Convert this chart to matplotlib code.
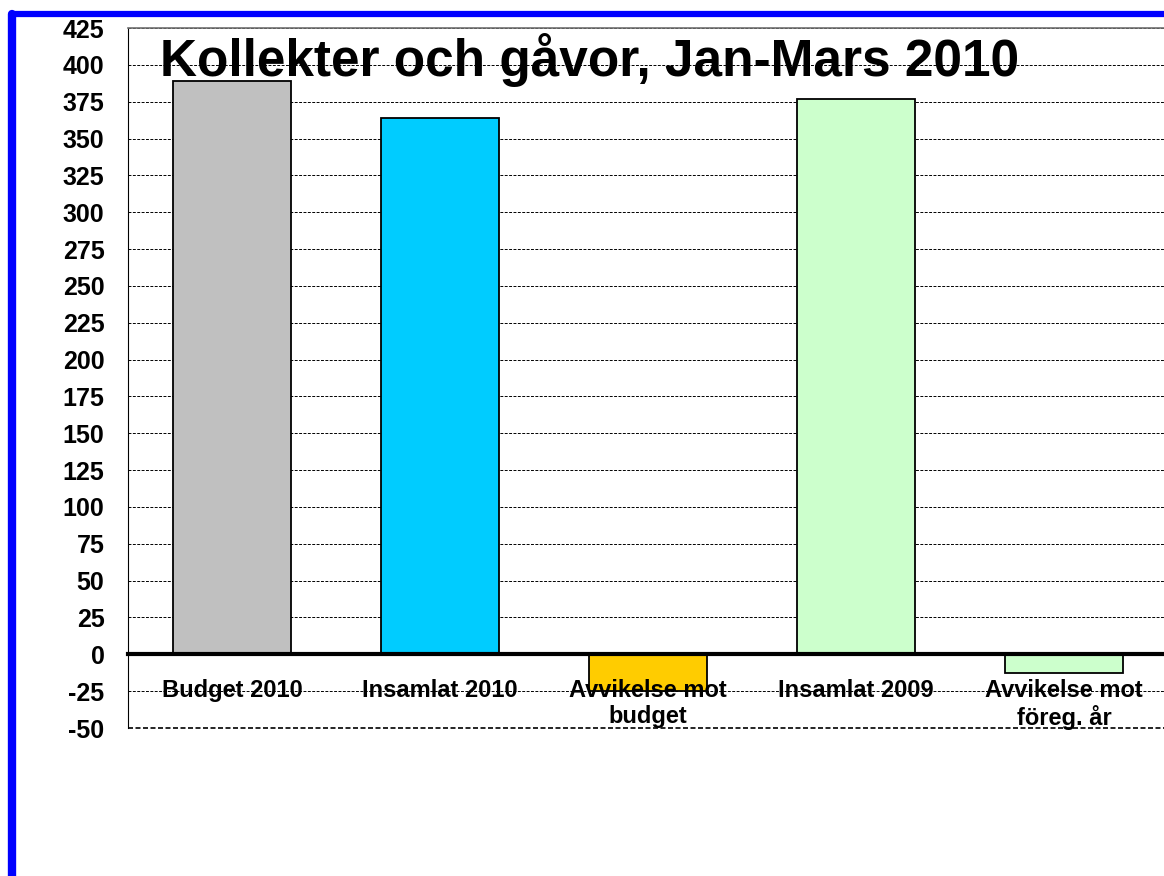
import matplotlib
matplotlib.use("Agg")
import matplotlib.pyplot as plt
from matplotlib.lines import Line2D
import numpy as np

title = "Kollekter och gåvor, Jan-Mars 2010"
categories = ["Budget 2010", "Insamlat 2010", "Avvikelse mot\nbudget",
              "Insamlat 2009", "Avvikelse mot\nföreg. år"]
values = [389, 364, -25, 377, -13]
colors = ["#C0C0C0", "#00CCFF", "#FFCC00", "#CCFFCC", "#CCFFCC"]
yticks = list(range(-50, 426, 25))

plt.rcParams['font.family'] = ['Liberation Sans', 'DejaVu Sans']

fig = plt.figure(figsize=(11.64, 8.76), dpi=100)
fig.patch.set_facecolor('white')

# plot area runs off the right edge like the original
ax = fig.add_axes([128 / 1164, 148 / 876, 1040 / 1164, 700 / 876])
ax.set_facecolor('none')

# spine moves first: set_position resets the tick labels
ax.spines['bottom'].set_position(('data', 0))
ax.spines['bottom'].set_linewidth(3)
ax.spines['bottom'].set_color('black')
ax.spines['bottom'].set_zorder(3)
ax.spines['left'].set_linestyle((0, (1.5, 1)))
ax.spines['left'].set_linewidth(0.8)
ax.spines['top'].set_color('#707070')
ax.spines['top'].set_linewidth(1.2)
ax.spines['right'].set_visible(False)

x = np.arange(len(categories))
ax.bar(x, values, width=0.57, color=colors, edgecolor='black', linewidth=1.3, zorder=2)

ax.set_xlim(-0.5, len(categories) - 0.5)
ax.set_ylim(-50, 425)
ax.set_yticks(yticks)
ax.set_yticklabels([str(v) for v in yticks], fontsize=18, fontweight='bold')
ax.set_xticks(x)
ax.set_xticklabels(categories, fontsize=17, fontweight='bold', linespacing=1.15)
ax.tick_params(axis='both', length=0)
ax.tick_params(axis='y', pad=17)
ax.tick_params(axis='x', pad=18)

ax.grid(axis='y', color='black', linestyle=(0, (3, 1.5)), linewidth=0.7, zorder=0)
ax.set_axisbelow(True)
ax.xaxis.set_zorder(3)

ax.axhline(-50, color='black', linestyle=(0, (3, 1.5)), linewidth=1.2, clip_on=False)

# title sits behind the gridlines
fig.text(160 / 1164, 1 - 76 / 876, title, fontsize=37, fontweight='bold',
         ha='left', va='baseline', zorder=-1)

# blue frame on left and top
fig.add_artist(Line2D([12 / 1164, 12 / 1164], [0, 1 - 14 / 876], color='#0000FF',
                      linewidth=6, transform=fig.transFigure, solid_capstyle='round'))
fig.add_artist(Line2D([12 / 1164, 1.0], [1 - 14 / 876, 1 - 14 / 876], color='#0000FF',
                      linewidth=4.5, transform=fig.transFigure, solid_capstyle='round'))

fig.savefig("out.png", dpi=100)
